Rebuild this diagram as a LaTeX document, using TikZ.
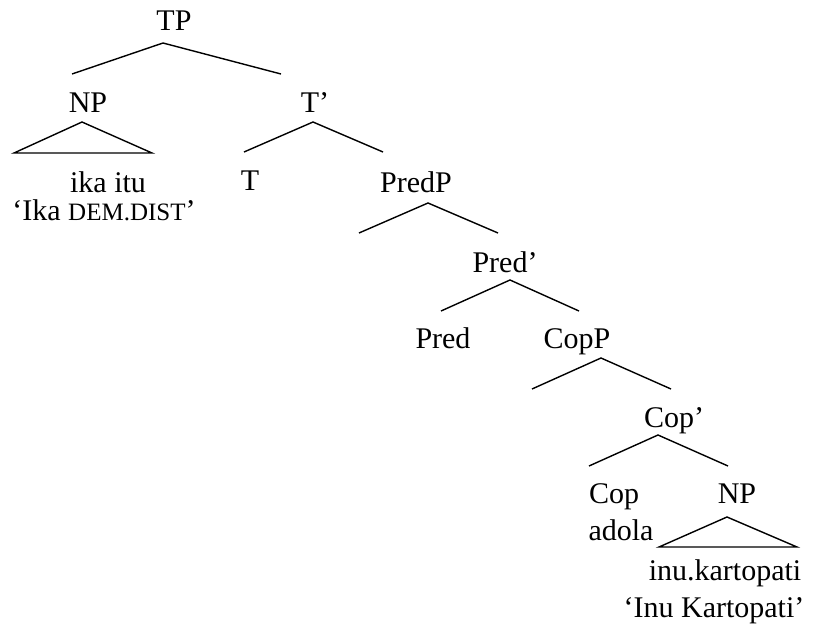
\documentclass[tikz,border=0pt]{standalone}
\usepackage{fontspec}
\setmainfont{Liberation Serif}
\begin{document}
\begin{tikzpicture}[x=1pt,y=-1pt,
  lbl/.style={anchor=base,inner sep=0pt,font=\fontsize{30}{36}\selectfont},
  branch/.style={line width=1.4pt,line join=miter}]
\useasboundingbox (0,0) rectangle (830,632);
\newcommand{\smc}[1]{{\fontsize{25}{30}\selectfont #1}}

% labels
\node[lbl] (TP)    at (174,30)  {TP};
\node[lbl] (NPa)   at (88,112)  {NP};
\node[lbl] (ika)   at (108,192) {ika itu};
\node[lbl] (ikagl) at (104,220) {‘Ika \smc{DEM.DIST}’};
\node[lbl] (Tbar)  at (315,112) {T’};
\node[lbl] (T)     at (250,190) {T};
\node[lbl] (PredP) at (416,192) {PredP};
\node[lbl] (Predb) at (505,272) {Pred’};
\node[lbl] (Pred)  at (443,348) {Pred};
\node[lbl] (CopP)  at (577,348) {CopP};
\node[lbl] (Copb)  at (674,427) {Cop’};
\node[lbl] (Cop)   at (614,503) {Cop};
\node[lbl] (adola) at (621,540) {adola};
\node[lbl] (NPb)   at (737,503) {NP};
\node[lbl] (inu)   at (725,580) {inu.kartopati};
\node[lbl] (inugl) at (714,617) {‘Inu Kartopati’};

% branch points
\coordinate (tpA) at (163,43);  \coordinate (tpL) at (72,74);   \coordinate (tpR) at (281,74);
\coordinate (npA) at (82,122);  \coordinate (npL) at (14,153);  \coordinate (npR) at (152,153);
\coordinate (tbA) at (313,122); \coordinate (tbL) at (244,152); \coordinate (tbR) at (383,152);
\coordinate (ppA) at (428,203); \coordinate (ppL) at (359,233); \coordinate (ppR) at (498,233);
\coordinate (pbA) at (510,280); \coordinate (pbL) at (441,311); \coordinate (pbR) at (579,311);
\coordinate (cpA) at (601,358); \coordinate (cpL) at (532,389); \coordinate (cpR) at (671,389);
\coordinate (cbA) at (658,435); \coordinate (cbL) at (589,466); \coordinate (cbR) at (728,466);
\coordinate (nbA) at (727,517); \coordinate (nbL) at (659,547); \coordinate (nbR) at (797,547);

% branches
\draw[branch] (tpL) -- (tpA) -- (tpR);
\draw[branch] (npL) -- (npA) -- (npR) -- cycle;
\draw[branch] (tbL) -- (tbA) -- (tbR);
\draw[branch] (ppL) -- (ppA) -- (ppR);
\draw[branch] (pbL) -- (pbA) -- (pbR);
\draw[branch] (cpL) -- (cpA) -- (cpR);
\draw[branch] (cbL) -- (cbA) -- (cbR);
\draw[branch] (nbL) -- (nbA) -- (nbR) -- cycle;
\end{tikzpicture}
\end{document}
